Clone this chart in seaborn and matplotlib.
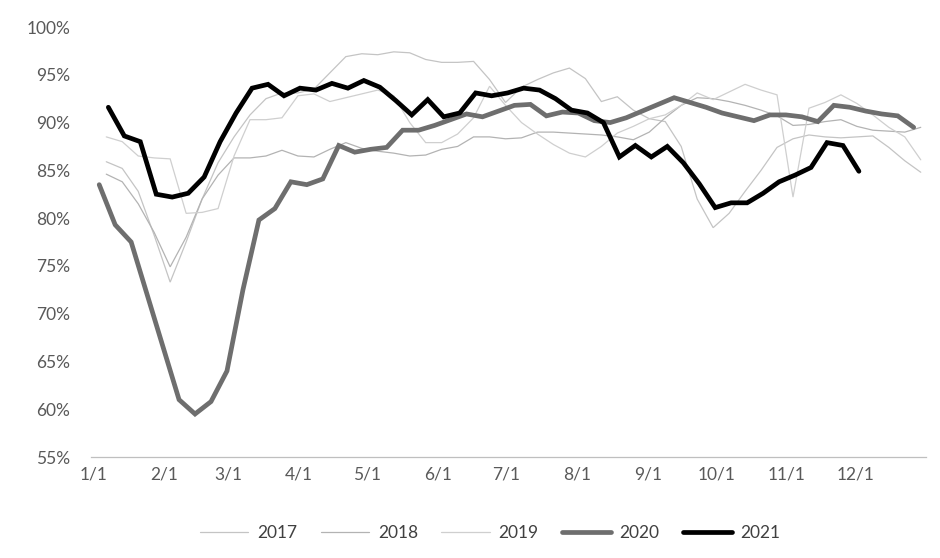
import numpy as np
import pandas as pd
import matplotlib
matplotlib.use("Agg")
import matplotlib.pyplot as plt
import seaborn as sns

# ---------------- data ----------------
years = ["2017", "2018", "2019", "2020", "2021"]
# day-of-year of first weekly observation for each series
start_days = {"2017": 5.7, "2018": 5.7, "2019": 5.7, "2020": 2.6, "2021": 6.6}
week_step = 7.0

v2017 = [85.9, 85.2, 82.8, 78.2, 73.3, 77.5, 82.0, 85.8, 88.5, 90.8, 92.5, 93.1, 93.1,
         93.5, 95.2, 96.9, 97.2, 97.1, 97.4, 97.3, 96.6, 96.3, 96.3, 96.4, 94.5, 92.1,
         93.7, 94.5, 95.2, 95.7, 94.6, 92.2, 92.7, 91.3, 90.4, 90.1, 87.5, 82.0, 79.0,
         80.5, 82.8, 85.0, 87.4, 88.3, 88.7, 88.5, 88.4, 88.5, 88.6, 87.4, 86.0, 84.8]
v2018 = [84.6, 83.8, 81.5, 78.5, 74.9, 78.0, 82.0, 84.5, 86.3, 86.3, 86.5, 87.1, 86.5,
         86.4, 87.2, 87.9, 87.3, 87.0, 86.8, 86.5, 86.6, 87.2, 87.5, 88.5, 88.5, 88.3,
         88.4, 89.0, 89.0, 88.9, 88.8, 88.7, 88.5, 88.2, 89.0, 90.5, 91.8, 92.6, 92.5,
         92.2, 91.8, 91.3, 90.7, 89.7, 89.8, 90.1, 90.3, 89.6, 89.2, 89.1, 89.0, 89.5]
v2019 = [88.5, 88.0, 86.5, 86.3, 86.2, 80.5, 80.6, 81.0, 86.5, 90.3, 90.3, 90.5, 92.8,
         93.0, 92.2, 92.6, 93.0, 93.4, 92.8, 90.0, 87.9, 87.9, 88.8, 90.5, 93.8, 91.8,
         90.0, 88.8, 87.7, 86.8, 86.4, 87.5, 88.9, 89.6, 90.4, 90.8, 91.8, 93.1, 92.4,
         93.2, 94.0, 93.4, 92.9, 82.2, 91.5, 92.1, 92.9, 92.0, 90.8, 89.5, 88.5, 86.1]
v2020 = [83.5, 79.3, 77.5, 72.0, 66.5, 61.0, 59.5, 60.8, 64.0, 72.5, 79.8, 81.0, 83.8,
         83.5, 84.1, 87.6, 86.9, 87.2, 87.4, 89.2, 89.2, 89.7, 90.3, 90.9, 90.6, 91.2,
         91.8, 91.9, 90.7, 91.1, 91.0, 90.2, 90.0, 90.5, 91.2, 91.9, 92.6, 92.1, 91.6,
         91.0, 90.6, 90.2, 90.8, 90.8, 90.6, 90.1, 91.8, 91.6, 91.2, 90.9, 90.7, 89.5]
v2021 = [91.6, 88.6, 88.0, 82.5, 82.2, 82.6, 84.3, 88.0, 91.0, 93.6, 94.0, 92.8, 93.6,
         93.4, 94.1, 93.6, 94.4, 93.7, 92.3, 90.8, 92.4, 90.6, 91.0, 93.1, 92.8, 93.1,
         93.6, 93.4, 92.5, 91.3, 91.0, 90.0, 86.4, 87.6, 86.4, 87.5, 85.8, 83.6, 81.1,
         81.6, 81.6, 82.6, 83.8, 84.5, 85.3, 87.9, 87.6, 84.9]

series = {"2017": v2017, "2018": v2018, "2019": v2019, "2020": v2020, "2021": v2021}

month_days = [0, 31, 59, 90, 120, 151, 181, 212, 243, 273, 304, 334]
month_labels = ["1/1", "2/1", "3/1", "4/1", "5/1", "6/1", "7/1", "8/1", "9/1",
                "10/1", "11/1", "12/1"]
y_ticks = [55, 60, 65, 70, 75, 80, 85, 90, 95, 100]

# ---------------- styles ----------------
colors = {"2017": "#c4c4c4", "2018": "#b3b3b3", "2019": "#cfcfcf",
          "2020": "#6e6e6e", "2021": "#000000"}
widths = {"2017": 0.9, "2018": 0.9, "2019": 0.9, "2020": 3.4, "2021": 3.4}

sns.set_theme(style="white")
plt.rcParams["font.family"] = ["Lato", "DejaVu Sans"]
text_color = "#595959"

rows = []
for y in years:
    vals = series[y]
    for i, v in enumerate(vals):
        rows.append({"year": y, "day": start_days[y] + week_step * i, "rate": v})
df = pd.DataFrame(rows)

fig = plt.figure(figsize=(9.4, 5.58), dpi=100)
ax = fig.add_axes([91 / 940, 1 - 457 / 558, (926 - 91) / 940, (457 - 27) / 558])

for y in years:
    sub = df[df["year"] == y]
    sns.lineplot(data=sub, x="day", y="rate", ax=ax, color=colors[y],
                 linewidth=widths[y], label=y, solid_joinstyle="miter")

ax.set_xlim(-1, 365)
ax.set_ylim(55, 100)
ax.set_xlabel("")
ax.set_ylabel("")

ax.set_yticks(y_ticks)
ax.set_yticklabels([f"{t}%" for t in y_ticks], color=text_color, fontsize=12.5)
ax.tick_params(axis="y", length=0, pad=15)

ax.set_xticks(month_days)
ax.set_xticklabels(month_labels, color=text_color, fontsize=12.5)
ax.set_xticks([365], minor=True)
ax.tick_params(axis="x", which="both", direction="out", length=5, width=0.8,
               color="#bfbfbf", pad=2)

for s in ["left", "right", "top"]:
    ax.spines[s].set_visible(False)
ax.spines["bottom"].set_color("#bfbfbf")
ax.spines["bottom"].set_linewidth(0.9)

leg = ax.legend(loc="center", bbox_to_anchor=(490 / 940, 1 - 533 / 558),
                bbox_transform=fig.transFigure, ncol=5, frameon=False,
                fontsize=12.5, handlelength=2.8, columnspacing=1.35, handletextpad=0.5)
for t in leg.get_texts():
    t.set_color("#404040")

fig.savefig("out.png", dpi=100, facecolor="white")
